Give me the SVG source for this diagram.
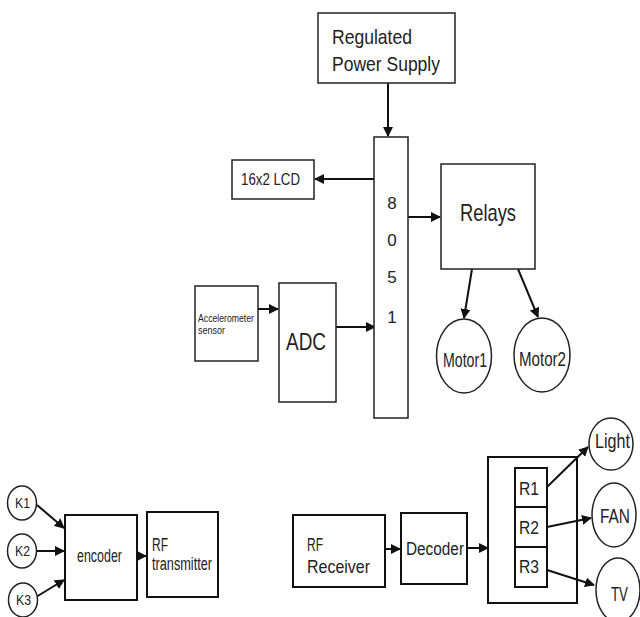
<svg xmlns="http://www.w3.org/2000/svg" width="640" height="617" viewBox="0 0 640 617">
<style>
.b{fill:#fff;stroke:#222;stroke-width:1.5}
.b2{fill:none;stroke:#111;stroke-width:2}
.t{font-family:"Liberation Sans",Arial,sans-serif;fill:#222}
.c{stroke:#111;stroke-width:2;fill:none;marker-end:url(#ah)}
</style>
<defs>
<marker id="ah" viewBox="0 0 10 10" refX="9" refY="5" markerWidth="5" markerHeight="5" orient="auto" markerUnits="strokeWidth">
<path d="M0,0 L10,5 L0,10 z" fill="#111"/>
</marker>
</defs>
<rect width="640" height="617" fill="#fff"/>
<g id="connectors">
<line class="c" x1="388" y1="83" x2="388" y2="136"/>
<line class="c" x1="374" y1="179" x2="315" y2="179"/>
<line class="c" x1="408" y1="217" x2="440" y2="217"/>
<line class="c" x1="472" y1="269" x2="464" y2="318"/>
<line class="c" x1="518" y1="269" x2="538" y2="317"/>
<line class="c" x1="258" y1="309" x2="278" y2="309"/>
<line class="c" x1="336" y1="327" x2="375" y2="327"/>
<line class="c" x1="37" y1="505" x2="64" y2="528"/>
<line class="c" x1="37" y1="551" x2="64" y2="551"/>
<line class="c" x1="36" y1="597" x2="64" y2="580"/>
<line class="c" x1="137" y1="556" x2="146" y2="556"/>
<line class="c" x1="385" y1="549" x2="400" y2="549"/>
<line class="c" x1="467" y1="548" x2="488" y2="548"/>
<line class="c" x1="547" y1="487" x2="588" y2="447"/>
<line class="c" x1="547" y1="527" x2="591" y2="518"/>
<line class="c" x1="547" y1="570" x2="594" y2="585"/>
</g>
<g id="power">
<rect class="b" x="318" y="13" width="137" height="70"/>
<text class="t" x="332" y="44" font-size="21" textLength="80" lengthAdjust="spacingAndGlyphs">Regulated</text>
<text class="t" x="332" y="71" font-size="21" textLength="108" lengthAdjust="spacingAndGlyphs">Power Supply</text>
</g>
<g id="mcu">
<rect class="b" x="374" y="137" width="34" height="281"/>
<text class="t" x="392" y="209" font-size="17" text-anchor="middle">8</text>
<text class="t" x="392" y="246" font-size="17" text-anchor="middle">0</text>
<text class="t" x="392" y="283" font-size="17" text-anchor="middle">5</text>
<text class="t" x="392" y="323" font-size="17" text-anchor="middle">1</text>
</g>
<g id="lcd">
<rect class="b" x="232" y="160" width="82" height="39"/>
<text class="t" x="241" y="185" font-size="16" textLength="59" lengthAdjust="spacingAndGlyphs">16x2 LCD</text>
</g>
<g id="relays">
<rect class="b" x="441" y="164" width="94" height="105"/>
<text class="t" x="460" y="221" font-size="24" textLength="56" lengthAdjust="spacingAndGlyphs">Relays</text>
</g>
<g id="motor1">
<ellipse class="b" cx="464" cy="356" rx="27.5" ry="37"/>
<text class="t" x="443" y="367" font-size="20" textLength="44" lengthAdjust="spacingAndGlyphs">Motor1</text>
</g>
<g id="motor2">
<ellipse class="b" cx="542" cy="355" rx="28" ry="37"/>
<text class="t" x="519" y="366" font-size="20" textLength="47" lengthAdjust="spacingAndGlyphs">Motor2</text>
</g>
<g id="accel">
<rect class="b" x="195" y="286" width="63" height="75"/>
<text class="t" x="198" y="322" font-size="11" textLength="56" lengthAdjust="spacingAndGlyphs">Accelerometer</text>
<text class="t" x="198" y="334" font-size="11" textLength="27" lengthAdjust="spacingAndGlyphs">sensor</text>
</g>
<g id="adc">
<rect class="b" x="279" y="283" width="57" height="119"/>
<text class="t" x="286" y="350" font-size="24" textLength="40" lengthAdjust="spacingAndGlyphs">ADC</text>
</g>
<g id="k1">
<ellipse class="b" cx="22" cy="503" rx="14.5" ry="17"/>
<text class="t" x="15" y="508" font-size="14" textLength="15" lengthAdjust="spacingAndGlyphs">K1</text>
</g>
<g id="k2">
<ellipse class="b" cx="22" cy="551" rx="14.5" ry="17"/>
<text class="t" x="15" y="556" font-size="14" textLength="15" lengthAdjust="spacingAndGlyphs">K2</text>
</g>
<g id="k3">
<ellipse class="b" cx="23" cy="600" rx="14.5" ry="17"/>
<text class="t" x="16" y="605" font-size="14" textLength="15" lengthAdjust="spacingAndGlyphs">K3</text>
</g>
<g id="encoder">
<rect class="b2" x="65" y="515" width="72" height="85"/>
<text class="t" x="77" y="562" font-size="18" textLength="45" lengthAdjust="spacingAndGlyphs">encoder</text>
</g>
<g id="rftx">
<rect class="b2" x="147" y="512" width="71" height="85"/>
<text class="t" x="152" y="551" font-size="18" textLength="16" lengthAdjust="spacingAndGlyphs">RF</text>
<text class="t" x="152" y="570" font-size="18" textLength="60" lengthAdjust="spacingAndGlyphs">transmitter</text>
</g>
<g id="rfrx">
<rect class="b2" x="293" y="515" width="92" height="72"/>
<text class="t" x="307" y="551" font-size="19" textLength="16" lengthAdjust="spacingAndGlyphs">RF</text>
<text class="t" x="307" y="573" font-size="19" textLength="63" lengthAdjust="spacingAndGlyphs">Receiver</text>
</g>
<g id="decoder">
<rect class="b2" x="401" y="513" width="66" height="71"/>
<text class="t" x="406" y="555" font-size="18" textLength="58" lengthAdjust="spacingAndGlyphs">Decoder</text>
</g>
<g id="relaybank">
<rect class="b2" x="488" y="457" width="89" height="146"/>
<rect class="b2" x="515" y="468" width="32" height="39"/>
<rect class="b2" x="515" y="507" width="32" height="40"/>
<rect class="b2" x="515" y="547" width="32" height="40"/>
<text class="t" x="519" y="495" font-size="18" textLength="20" lengthAdjust="spacingAndGlyphs">R1</text>
<text class="t" x="519" y="534" font-size="18" textLength="20" lengthAdjust="spacingAndGlyphs">R2</text>
<text class="t" x="519" y="573" font-size="18" textLength="20" lengthAdjust="spacingAndGlyphs">R3</text>
</g>
<g id="light">
<ellipse class="b" cx="611" cy="444" rx="22" ry="26"/>
<text class="t" x="595" y="448" font-size="20" textLength="35" lengthAdjust="spacingAndGlyphs">Light</text>
</g>
<g id="fan">
<ellipse class="b" cx="614" cy="515" rx="22" ry="32"/>
<text class="t" x="600" y="523" font-size="20" textLength="30" lengthAdjust="spacingAndGlyphs">FAN</text>
</g>
<g id="tv">
<ellipse class="b" cx="618" cy="590" rx="22" ry="32"/>
<text class="t" x="611" y="601" font-size="21" textLength="17" lengthAdjust="spacingAndGlyphs">TV</text>
</g>
</svg>
